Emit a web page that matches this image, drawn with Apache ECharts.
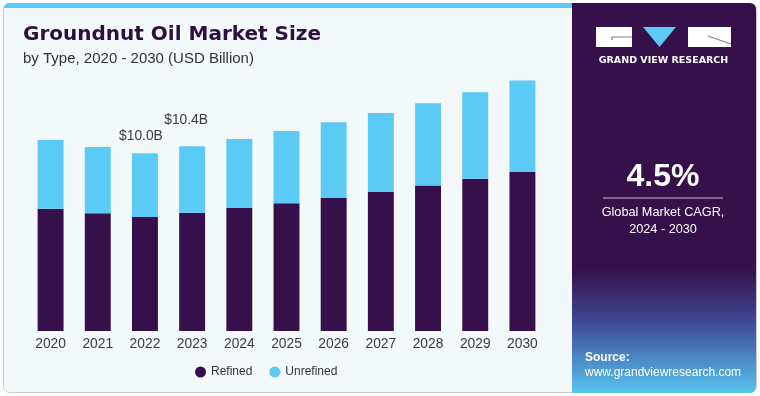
<!DOCTYPE html>
<html><head><meta charset="utf-8">
<script src="https://cdn.jsdelivr.net/npm/echarts@6/dist/echarts.min.js"></script>
<style>html,body{margin:0;padding:0;background:#fff}#c{width:760px;height:396px}</style>
</head><body><div id="c"></div>
<script>
const years = ['2020','2021','2022','2023','2024','2025','2026','2027','2028','2029','2030'];
const refined = [6.88, 6.62, 6.42, 6.66, 6.92, 7.19, 7.48, 7.82, 8.18, 8.57, 8.95];
const unrefined = [3.87, 3.73, 3.58, 3.73, 3.88, 4.06, 4.26, 4.45, 4.63, 4.86, 5.14];
const totalLabels = {2: '$10.0B', 3: '$10.4B'};
const FONT = '"Liberation Sans", Arial, sans-serif';
const WIDE = '"DejaVu Sans", sans-serif';

const chart = echarts.init(document.getElementById('c'), null, {renderer: 'canvas'});
const unrefData = unrefined.map((v, i) => {
  if (totalLabels[i] === undefined) return v;
  return {value: v, label: {show: true, position: 'top', formatter: totalLabels[i],
    distance: i === 2 ? 10 : 19, offset: [i === 2 ? -4 : -6, 0],
    color: '#3a3a3a', fontSize: 13.8, fontFamily: FONT}};
});

chart.setOption({
  animation: false,
  textStyle: {fontFamily: FONT},
  graphic: [
    {type: 'rect', z: -10, shape: {x: 3.5, y: 3.5, width: 753, height: 389, r: 6},
     style: {fill: '#f3f8fb', stroke: '#c9ced3', lineWidth: 1}},
    {type: 'rect', z: -9, shape: {x: 4, y: 3, width: 568, height: 5, r: [5, 0, 0, 0]},
     style: {fill: '#5bcbf5'}},
    {type: 'rect', z: -9, shape: {x: 572, y: 3, width: 184, height: 390, r: [0, 6, 6, 0]},
     style: {fill: new echarts.graphic.LinearGradient(0, 0, 0, 1, [
       {offset: 0, color: '#36104a'}, {offset: 0.68, color: '#36104a'},
       {offset: 0.82, color: '#3f4a95'}, {offset: 1, color: '#58c4f0'}])}},
    {type: 'rect', z: -8, shape: {x: 596, y: 27, width: 36, height: 20}, style: {fill: '#ffffff'}},
    {type: 'polyline', z: -7, shape: {points: [[612, 40], [612, 37], [632, 37]]}, style: {stroke: '#8a7a96', lineWidth: 1.2, fill: null}},
    {type: 'polygon', z: -8, shape: {points: [[643, 27], [676, 27], [659.5, 47]]}, style: {fill: '#5bcbf5'}},
    {type: 'rect', z: -8, shape: {x: 688, y: 27, width: 43, height: 20}, style: {fill: '#ffffff'}},
    {type: 'line', z: -7, shape: {x1: 708, y1: 36, x2: 731, y2: 44}, style: {stroke: '#8a7a96', lineWidth: 1.2}},
    {type: 'text', z: -7, style: {x: 663.5, y: 61, text: 'GRAND VIEW RESEARCH', fill: '#ffffff',
      font: 'bold 9.5px ' + WIDE, textAlign: 'center', textVerticalAlign: 'middle'}},
    {type: 'text', z: -7, style: {x: 663, y: 177, text: '4.5%', fill: '#ffffff',
      font: 'bold 32px ' + FONT, textAlign: 'center', textVerticalAlign: 'middle'}},
    {type: 'line', z: -7, shape: {x1: 603, y1: 198, x2: 723, y2: 198}, style: {stroke: '#c9bfd1', lineWidth: 1}},
    {type: 'text', z: -7, style: {x: 663, y: 212, text: 'Global Market CAGR,', fill: '#ffffff',
      font: '12.7px ' + FONT, textAlign: 'center', textVerticalAlign: 'middle'}},
    {type: 'text', z: -7, style: {x: 663, y: 229, text: '2024 - 2030', fill: '#ffffff',
      font: '12.7px ' + FONT, textAlign: 'center', textVerticalAlign: 'middle'}},
    {type: 'text', z: -7, style: {x: 585, y: 358, text: 'Source:', fill: '#ffffff',
      font: 'bold 12px ' + FONT, textAlign: 'left', textVerticalAlign: 'middle'}},
    {type: 'text', z: -7, style: {x: 585, y: 373, text: 'www.grandviewresearch.com', fill: '#ffffff',
      font: '12px ' + FONT, textAlign: 'left', textVerticalAlign: 'middle'}},
    {type: 'text', z: -7, style: {x: 23, y: 35, text: 'Groundnut Oil Market Size', fill: '#2e0f40',
      font: 'bold 20px ' + WIDE, textAlign: 'left', textVerticalAlign: 'middle'}},
    {type: 'text', z: -7, style: {x: 23, y: 59, text: 'by Type, 2020 - 2030 (USD Billion)', fill: '#333333',
      font: '15px ' + FONT, textAlign: 'left', textVerticalAlign: 'middle'}}
  ],
  legend: {
    data: ['Refined', 'Unrefined'], left: 190, top: 361, icon: 'circle',
    itemWidth: 11, itemHeight: 11, itemGap: 17,
    textStyle: {color: '#333333', fontSize: 12, fontFamily: FONT}
  },
  grid: {left: 27, width: 519, top: 64.4, bottom: 65, containLabel: false},
  xAxis: {type: 'category', data: years,
    axisLine: {show: false}, axisTick: {show: false},
    axisLabel: {color: '#3c3c3c', fontSize: 13.8, margin: 6, fontFamily: FONT}},
  yAxis: {type: 'value', min: 0, max: 15, show: false, splitLine: {show: false}},
  series: [
    {name: 'Refined', type: 'bar', stack: 't', data: refined, barWidth: '55%',
     itemStyle: {color: '#36104a'}},
    {name: 'Unrefined', type: 'bar', stack: 't', data: unrefData, barWidth: '55%',
     itemStyle: {color: '#5bcbf5'}}
  ]
});
</script></body></html>
